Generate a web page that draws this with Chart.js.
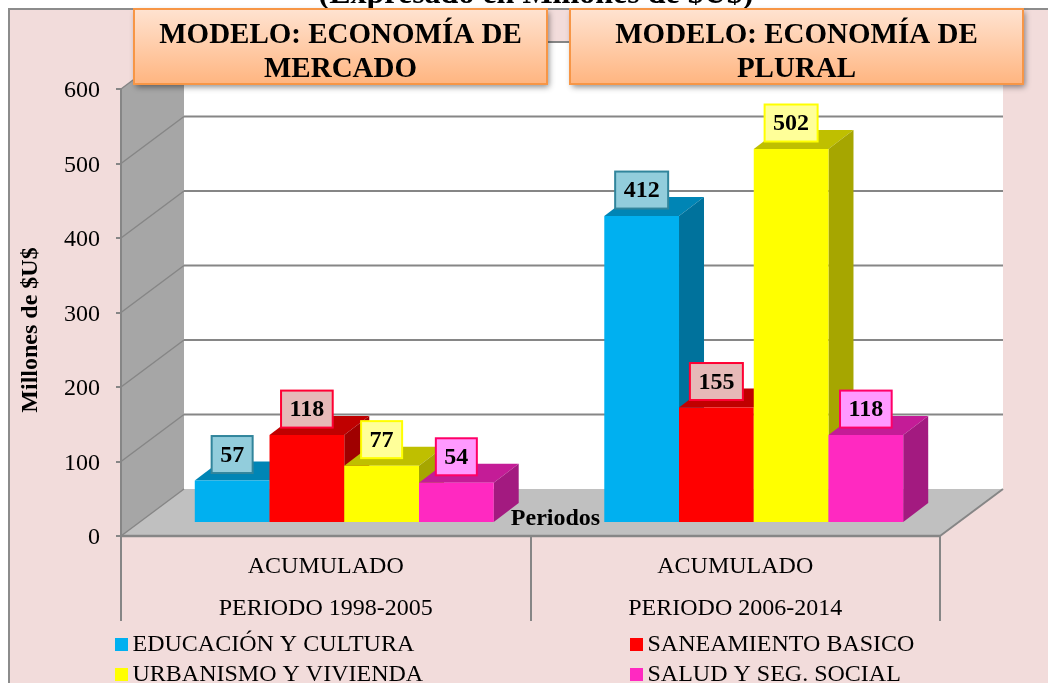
<!DOCTYPE html>
<html><head><meta charset="utf-8">
<style>html,body{margin:0;padding:0;background:#fff;overflow:hidden}canvas{display:block}</style>
<script src="https://cdn.jsdelivr.net/npm/chart.js@4/dist/chart.umd.min.js"></script>
</head><body><canvas id="c" width="1048" height="683"></canvas>
<script>
const categories = [["ACUMULADO","PERIODO 1998-2005"],["ACUMULADO","PERIODO 2006-2014"]];
const seriesNames = ["EDUCACIÓN Y CULTURA","SANEAMIENTO BASICO","URBANISMO Y VIVIENDA","SALUD Y SEG. SOCIAL"];
const educacion = [57,412];
const saneamiento = [118,155];
const urbanismo = [77,502];
const salud = [54,118];
const titleText = "(Expresado en Millones de $U$)";
const yTitle = "Millones de $U$";
const xTitle = "Periodos";
const modelBoxes = [["MODELO: ECONOMÍA DE","MERCADO"],["MODELO: ECONOMÍA DE","PLURAL"]];

const FRONT = ["#00B0F0","#FF0000","#FFFF00","#FF29C1"];
const TOPS  = ["#0085B5","#C00000","#BFBF00","#C41C97"];
const SIDES = ["#00729C","#A00000","#A6A600","#A31A80"];
const LBL_FILL = ["#92CDDC","#E6B9B8","#FFFF99","#FF99FF"];
const LBL_LINE = ["#31859C","#FF0033","#FFFF00","#FF0066"];
const SERIF = '"Liberation Serif"';
const GRID = "#868686";
const WALL = {dx:63, dy:-47};
const BAR = {sx:18.5, sy:-13, dx:25, dy:-19};

function poly(ctx, pts, fill){
  ctx.beginPath(); pts.forEach((p,i)=> i?ctx.lineTo(p[0],p[1]):ctx.moveTo(p[0],p[1])); ctx.closePath();
  ctx.fillStyle=fill; ctx.fill();
}
function seg(ctx,a,b,w,col){ctx.beginPath();ctx.moveTo(a[0],a[1]);ctx.lineTo(b[0],b[1]);ctx.lineWidth=w;ctx.strokeStyle=col||GRID;ctx.stroke();}

const scene = {
  id:'scene',
  afterLayout(chart){
    const t=chart.titleBlock; if(t){t.left+=66;t.right+=66;}
  },
  beforeDraw(chart){
    const c=chart.ctx;
    // nudge tick text to sit on its tick like the reference
    chart.scales.y.getLabelItems().forEach(it=>{ if(!it._nudged){it.options.translation[1]+=2; it._nudged=true;} });
    c.save();
    c.fillStyle="#F2DCDB"; c.fillRect(9,9,1060,700);
    c.strokeStyle="#8C8C8C"; c.lineWidth=2; c.strokeRect(9,9,1060,700);
    c.restore();
  },
  beforeDatasetsDraw(chart){
    const c=chart.ctx, a=chart.chartArea, y=chart.scales.y;
    const {dx,dy}=WALL;
    c.save();
    const bl=a.left+dx, by=a.bottom+dy, ty=a.top+dy, br=a.right+dx;
    poly(c,[[bl,ty],[br,ty],[br,by],[bl,by]],"#FFFFFF");
    poly(c,[[a.left,a.top],[bl,ty],[bl,by],[a.left,a.bottom]],"#A6A6A6");
    poly(c,[[a.left,a.bottom],[a.right,a.bottom],[br,by],[bl,by]],"#C0C0C0");
    y.ticks.forEach(t=>{
      const py=y.getPixelForValue(t.value);
      seg(c,[a.left,py],[bl,py+dy],1.5);
      if(t.value>0) seg(c,[bl,py+dy],[br,py+dy],2.2);
    });
    seg(c,[a.left,a.top],[a.left,a.bottom],2);
    seg(c,[a.left,a.bottom],[a.right,a.bottom],2.5);
    seg(c,[a.right,a.bottom],[br,by],2);
    // axis titles
    c.fillStyle="#000"; c.textAlign="center"; c.textBaseline="middle";
    c.font='bold 24px '+SERIF;
    c.fillText(xTitle,(a.left+a.right)/2+25,519);
    c.save(); c.translate(31,330); c.rotate(-Math.PI/2); c.fillText(yTitle,0,0); c.restore();
    c.restore();
    // bars, left to right, each with its 3D top and side
    c.save(); c.translate(BAR.sx,BAR.sy);
    const {dx:bx,dy:bz}=BAR;
    chart.data.datasets.forEach((ds,i)=>{
      const meta=chart.getDatasetMeta(i);
      meta.data.forEach(el=>{
        const l=el.x-el.width/2, r=el.x+el.width/2, t=el.y, b=el.base;
        poly(c,[[l,t],[r,t],[r+bx,t+bz],[l+bx,t+bz]],TOPS[i]);
        poly(c,[[r,t],[r+bx,t+bz],[r+bx,b+bz],[r,b]],SIDES[i]);
      });
      meta.controller.draw();
    });
    c.restore();
  },
  beforeDatasetDraw(){ return false; },
  afterDatasetsDraw(chart){
    const c=chart.ctx;
    c.save();
    // value labels
    c.textAlign="center"; c.textBaseline="middle";
    c.font='bold 24px '+SERIF;
    chart.data.datasets.forEach((ds,i)=>{
      chart.getDatasetMeta(i).data.forEach((el,j)=>{
        const s=String(ds.data[j]);
        const w=c.measureText(s).width+17, h=37;
        const cx=el.x+BAR.sx, cy=el.y+BAR.sy-26;
        c.fillStyle=LBL_FILL[i]; c.fillRect(cx-w/2,cy-h/2,w,h);
        c.strokeStyle=LBL_LINE[i]; c.lineWidth=2; c.strokeRect(cx-w/2,cy-h/2,w,h);
        c.fillStyle="#000"; c.fillText(s,cx,cy+1);
      });
    });
    // model boxes
    const boxes=[[134,9,413,75],[570,9,453,75]];
    boxes.forEach((b,k)=>{
      c.save();
      c.shadowColor="rgba(0,0,0,.45)"; c.shadowBlur=6; c.shadowOffsetX=2; c.shadowOffsetY=3;
      const g=c.createLinearGradient(0,b[1],0,b[1]+b[3]);
      g.addColorStop(0,"#FFE3D1"); g.addColorStop(1,"#FFB580");
      c.fillStyle=g; c.fillRect(b[0],b[1],b[2],b[3]);
      c.restore();
      c.strokeStyle="#F79646"; c.lineWidth=2; c.strokeRect(b[0],b[1],b[2],b[3]);
      c.fillStyle="#000"; c.font='bold 29px '+SERIF;
      c.fillText(modelBoxes[k][0],b[0]+b[2]/2,36);
      c.fillText(modelBoxes[k][1],b[0]+b[2]/2,70);
    });
    // legend
    const pos=[[115,644],[630,644],[115,674],[630,674]];
    c.textAlign="left"; c.font='24px '+SERIF;
    seriesNames.forEach((n,i)=>{
      c.fillStyle=FRONT[i]; c.fillRect(pos[i][0],pos[i][1]-6,13,13);
      c.fillStyle="#000"; c.fillText(n,pos[i][0]+17.5,pos[i][1]+1);
    });
    c.restore();
  }
};

const values=[educacion,saneamiento,urbanismo,salud];
new Chart(document.getElementById('c'),{
  type:'bar',
  data:{labels:categories,datasets:seriesNames.map((n,i)=>({
    label:n,data:values[i],backgroundColor:FRONT[i],borderWidth:0,clip:false,
    categoryPercentage:.73,barPercentage:1
  }))},
  options:{
    responsive:false,animation:false,
    layout:{padding:{left:0,top:0,right:108,bottom:62}},
    plugins:{
      legend:{display:false},tooltip:{enabled:false},
      title:{display:true,text:titleText,color:"#000",font:{family:SERIF,size:32,weight:'bold',lineHeight:1.2},padding:{top:-24,bottom:74.6}}
    },
    scales:{
      x:{offset:true,
        afterFit(s){s.height=85;},
        grid:{drawOnChartArea:false,tickLength:85,color:GRID,lineWidth:2},
        border:{display:false},
        ticks:{color:"#000",font:{family:SERIF,size:24,lineHeight:1.75},padding:-75,maxRotation:0,autoSkip:false}
      },
      y:{min:0,max:600,
        afterFit(s){s.width=121;},
        grid:{drawOnChartArea:false,tickLength:5,color:GRID,lineWidth:2},
        border:{display:false},
        ticks:{stepSize:100,color:"#000",font:{family:SERIF,size:24},padding:16}
      }
    }
  },
  plugins:[scene]
});
</script></body></html>
